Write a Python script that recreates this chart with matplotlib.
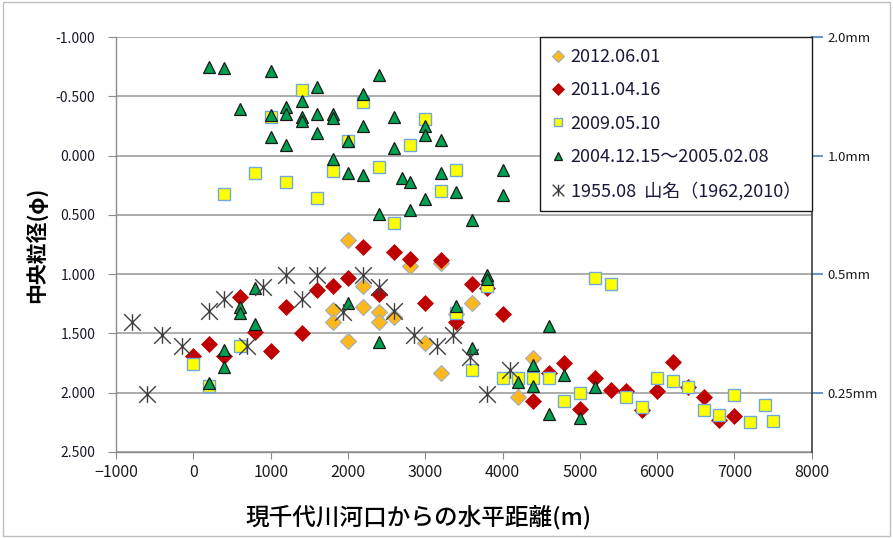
import matplotlib
matplotlib.use("Agg")
import matplotlib.pyplot as plt
from matplotlib.path import Path
from matplotlib.patches import Rectangle

plt.rcParams['font.family'] = ['Noto Sans CJK JP', 'DejaVu Sans']

# ---- data ----
x_2012 = [2000, 2200, 1800, 1800, 2200, 2400, 2400, 2000, 2600, 2800, 3200, 3600, 3400, 3000, 3200, 4400, 4200]
y_2012 = [0.71, 1.10, 1.30, 1.40, 1.28, 1.32, 1.40, 1.56, 1.36, 0.93, 0.91, 1.24, 1.335, 1.58, 1.835, 1.71, 2.04]

x_2011 = [0, 200, 400, 600, 800, 1000, 1200, 1400, 1600, 1800, 2000, 2200, 2400, 2600, 2800, 3200, 3000,
          3400, 3600, 3800, 4000, 4400, 4600, 4800, 5000, 5200, 5400, 5600, 5800, 6000, 6200, 6400, 6600, 6800, 7000]
y_2011 = [1.69, 1.59, 1.69, 1.195, 1.49, 1.65, 1.28, 1.50, 1.13, 1.10, 1.03, 0.77, 1.17, 0.81, 0.87, 0.88, 1.24,
          1.40, 1.08, 1.12, 1.34, 2.07, 1.83, 1.75, 2.14, 1.88, 1.98, 1.99, 2.15, 1.99, 1.74, 1.95, 2.04, 2.23, 2.20]

x_2009 = [400, 800, 1000, 1200, 1400, 1600, 1800, 2000, 2200, 2400, 2600, 2800, 3000, 3200, 3400,
          0, 200, 600, 3400, 3600, 3800, 4000, 4200, 4400, 4600, 4800, 5000, 5200, 5400, 5600, 5800,
          6000, 6200, 6400, 6600, 6800, 7000, 7200, 7400, 7500]
y_2009 = [0.32, 0.15, -0.33, 0.225, -0.555, 0.36, 0.13, -0.12, -0.45, 0.10, 0.57, -0.09, -0.31, 0.30, 0.12,
          1.76, 1.945, 1.61, 1.33, 1.81, 1.10, 1.875, 1.88, 1.88, 1.88, 2.07, 2.00, 1.03, 1.08, 2.04, 2.12,
          1.88, 1.90, 1.95, 2.15, 2.19, 2.02, 2.25, 2.105, 2.24]

x_2004 = [200, 400, 1000, 2400, 1600, 2200, 1400, 600, 1200, 1000, 1200, 1400, 1400, 1600, 1800, 1800, 2600,
          1000, 1200, 1600, 2200, 2000, 1800, 2000, 2200, 2600, 2700, 2400, 3000, 3000, 3200, 2800, 3200,
          3400, 3000, 2800, 3600, 4000, 4000,
          800, 600, 600, 800, 400, 400, 200, 2000, 2400, 3800, 3800, 3400, 4600, 3600, 4200, 4400, 4400,
          4800, 4600, 5000, 5200]
y_2004 = [-0.75, -0.74, -0.71, -0.68, -0.58, -0.52, -0.46, -0.39, -0.41, -0.34, -0.35, -0.33, -0.29, -0.35,
          -0.35, -0.32, -0.33, -0.155, -0.09, -0.19, -0.25, -0.12, 0.03, 0.15, 0.16, -0.065, 0.19, 0.49,
          -0.25, -0.17, -0.13, 0.22, 0.145, 0.31, 0.365, 0.46, 0.54, 0.12, 0.33,
          1.12, 1.28, 1.33, 1.42, 1.64, 1.785, 1.92, 1.24, 1.57, 1.01, 1.04, 1.27, 1.44, 1.62, 1.91, 1.765,
          1.94, 1.85, 2.18, 2.21, 1.95]

x_1955 = [-800, -600, -400, -150, 200, 400, 700, 900, 1200, 1400, 1600, 1930, 2200, 2400, 2600, 2860,
          3150, 3360, 3580, 3800, 4100]
y_1955 = [1.405, 2.01, 1.51, 1.61, 1.31, 1.21, 1.61, 1.11, 1.01, 1.21, 1.01, 1.32, 1.01, 1.11, 1.31, 1.51,
          1.61, 1.51, 1.70, 2.01, 1.81]

labels = ['2012.06.01', '2011.04.16', '2009.05.10', '2004.12.15～2005.02.08', '1955.08  山名（1962,2010）']
y_ticks = [-1.0, -0.5, 0.0, 0.5, 1.0, 1.5, 2.0, 2.5]
x_ticks = [-1000, 0, 1000, 2000, 3000, 4000, 5000, 6000, 7000, 8000]
right_ticks = [-1.0, 0.0, 1.0, 2.0]
right_labels = ['2.0mm', '1.0mm', '0.5mm', '0.25mm']

# ---- figure ----
fig = plt.figure(figsize=(8.93, 5.38), dpi=100)
ax = fig.add_axes([0.130, 0.160, 0.779, 0.771])

star = Path([(0, -1), (0, 1), (-1, -1), (1, 1), (-1, 1), (1, -1)],
            [Path.MOVETO, Path.LINETO, Path.MOVETO, Path.LINETO, Path.MOVETO, Path.LINETO])

h1, = ax.plot(x_2012, y_2012, ls='none', marker='D', ms=8.5, mfc='#FFB81C', mec='#9DAFC4', mew=0.8, zorder=3)
h2, = ax.plot(x_2011, y_2011, ls='none', marker='D', ms=8.5, mfc='#C00000', mec='#C00000', mew=0.5, zorder=4)
h3, = ax.plot(x_2009, y_2009, ls='none', marker='s', ms=8.5, mfc='#FFFF00', mec='#6FA8DC', mew=1.0, zorder=5)
h4, = ax.plot(x_2004, y_2004, ls='none', marker='^', ms=9, mfc='#00A04E', mec='#1A1A1A', mew=0.9, zorder=6)
h5, = ax.plot(x_1955, y_1955, ls='none', marker=star, ms=12, mfc='none', mec='#404040', mew=1.0, zorder=7)

ax.set_xlim(-1000, 8000)
ax.set_ylim(2.5, -1.0)
ax.set_xticks(x_ticks)
ax.set_xticklabels([f"{v}" if v >= 0 else f"\u2212{abs(v)}" for v in x_ticks])
ax.set_yticks(y_ticks)
ax.set_yticklabels([f"{v:.3f}" for v in y_ticks])
ax.yaxis.grid(True, color='#A6A6A6', lw=1.3)
ax.set_axisbelow(True)
for s in ['top', 'right']:
    ax.spines[s].set_visible(False)
for s in ['left', 'bottom']:
    ax.spines[s].set_color('#8C8C8C')
    ax.spines[s].set_linewidth(1.0)
ax.tick_params(axis='y', colors='#8C8C8C', labelcolor='#1a1a2a', length=6, pad=9, labelsize=10)
ax.tick_params(axis='x', colors='#8C8C8C', labelcolor='#1a1a1a', length=5, labelsize=11.5)

ax.set_ylabel('中央粒径(φ)', fontsize=15, fontweight='bold', labelpad=6)
ax.set_xlabel('現千代川河口からの水平距離(m)', fontsize=17, fontweight='medium')
ax.xaxis.set_label_coords(0.434, -0.128)

ax2 = ax.twinx()
ax2.set_ylim(2.5, -1.0)
ax2.set_yticks(right_ticks)
ax2.set_yticklabels(right_labels)
ax2.tick_params(axis='y', colors='#4F81BD', labelcolor='#1a1a1a', length=8, width=1.2, labelsize=9.5)
for s in ['top', 'left', 'bottom']:
    ax2.spines[s].set_visible(False)
ax2.spines['right'].set_color('#404040')
ax2.spines['right'].set_linewidth(1.2)

leg = ax2.legend([h1, h2, h3, h4, h5], labels, loc='upper right', bbox_to_anchor=(1.0, 1.0),
                 borderaxespad=0, fancybox=False, framealpha=1, edgecolor='#1a1a1a',
                 fontsize=13, markerscale=0.7, handlelength=0.8, handletextpad=0.3,
                 labelspacing=0.85, borderpad=0.6)
leg.get_frame().set_linewidth(1.0)
for t in leg.get_texts():
    t.set_color('#1a1a3a')

fig.patches.append(Rectangle((0.003, 0.004), 0.994, 0.992, transform=fig.transFigure,
                             fill=False, edgecolor='#BFBFBF', lw=1.0))

fig.savefig('out.png', dpi=100)
